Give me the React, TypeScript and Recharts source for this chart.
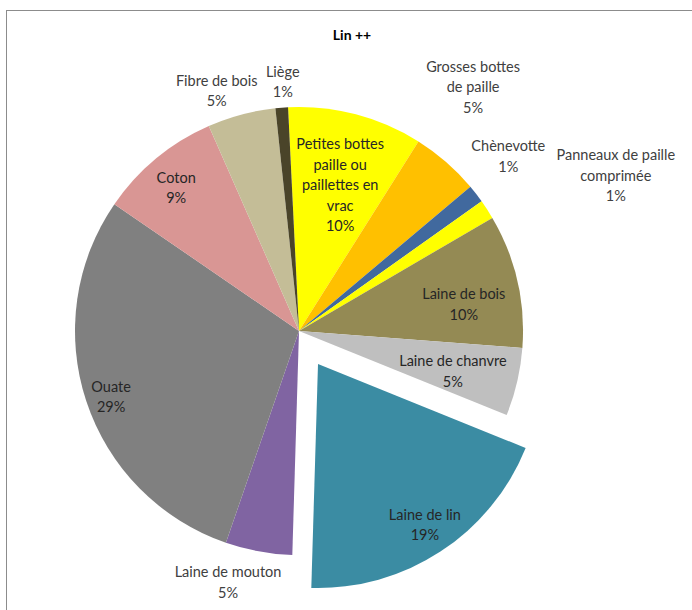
import { PieChart, Pie, Cell } from "recharts";

const categories = [
	"Petites bottes\npaille ou\npaillettes en\nvrac",
	"Grosses bottes\nde paille",
	"Chènevotte",
	"Panneaux de paille\ncomprimée",
	"Laine de bois",
	"Laine de chanvre",
	"Laine de lin",
	"Laine de mouton",
	"Ouate",
	"Coton",
	"Fibre de bois",
	"Liège",
];
const shares = [9.7, 4.9, 1.3, 1.4, 9.6, 4.9, 19.3, 4.8, 29.2, 8.8, 4.9, 0.9];

const COLORS = [
	"#FFFF00",
	"#FFC000",
	"#41699E",
	"#FFFF00",
	"#948A54",
	"#BFBFBF",
	"#3B8CA3",
	"#8064A2",
	"#808080",
	"#D99694",
	"#C4BD97",
	"#4A4429",
];

// label placement: distance from centre (px) and angle tweak (deg, clockwise)
const LABEL_POS: Record<number, { r: number; da: number; inside?: boolean }> = {
	0: { r: 152, da: 1, inside: true },
	1: { r: 300, da: -5.6 },
	2: { r: 273, da: -2.2 },
	3: { r: 353, da: 6.7 },
	4: { r: 167, da: 3.7, inside: true },
	5: { r: 159, da: 1.4, inside: true },
	6: { r: 193, da: -0.5, inside: true },
	7: { r: 261, da: 5.4 },
	8: { r: 199, da: -1, inside: true },
	9: { r: 189, da: -0.9, inside: true },
	10: { r: 254, da: -4 },
	11: { r: 250, da: 0.7 },
};

const EXPLODED = 6;
const CX = 299;
const CY = 331;
const RADIUS = 224;
const START = 92.8;

const data = categories.map((name, i) => ({ name, value: shares[i] }));
const total = shares.reduce((a, b) => a + b, 0);

const RAD = Math.PI / 180;

function renderLabel(props: any, only: number | null) {
	const { cx, cy, midAngle, index } = props;
	if (only === null ? index === EXPLODED : index !== only) return null;
	const pos = LABEL_POS[index];
	const a = (midAngle - pos.da) * RAD;
	const x = cx + pos.r * Math.cos(a);
	const y = cy - pos.r * Math.sin(a);
	const lines = [...categories[index].split("\n"), `${Math.round((shares[index] / total) * 100)}%`];
	const y0 = y - ((lines.length - 1) * 20.5) / 2;
	return (
		<text
			key={`lbl-${index}`}
			x={x}
			y={y0}
			textAnchor="middle"
			fill={pos.inside ? "#262626" : "#404040"}
			fontSize={14.5}
			fontFamily="Lato, 'Open Sans', sans-serif"
		>
			{lines.map((l, k) => (
				<tspan key={k} x={x} y={y0 + k * 20.5} dominantBaseline="central">
					{l}
				</tspan>
			))}
		</text>
	);
}

export default function App() {
	return (
		<div style={{ position: "fixed", left: 0, top: 0, width: 692, height: 610, background: "#fff" }}>
			<div
				style={{
					position: "absolute",
					left: 6,
					top: 10,
					width: 720,
					height: 640,
					borderTop: "1.5px solid #8c8c8c",
					borderLeft: "1.5px solid #8c8c8c",
				}}
			/>
			<div
				style={{
					position: "absolute",
					left: 0,
					top: 26,
					width: 704,
					textAlign: "center",
					fontFamily: "Lato, 'Open Sans', sans-serif",
					fontWeight: 700,
					fontSize: 14,
					color: "#000",
				}}
			>
				Lin ++
			</div>
			<div style={{ position: "absolute", left: 0, top: 0 }}>
				<PieChart width={692} height={610} margin={{ top: 0, right: 0, bottom: 0, left: 0 }}>
					<Pie
						data={data}
						dataKey="value"
						nameKey="name"
						cx={CX}
						cy={CY}
						outerRadius={RADIUS}
						startAngle={START}
						endAngle={START - 360}
						stroke="none"
						labelLine={false}
						label={(p: any) => renderLabel(p, null)}
						isAnimationActive={false}
					>
						{data.map((d, i) => (
							<Cell key={d.name} fill={i === EXPLODED ? "transparent" : COLORS[i]} />
						))}
					</Pie>
					<Pie
						data={data}
						dataKey="value"
						nameKey="name"
						cx={CX + 19}
						cy={CY + 33}
						outerRadius={RADIUS}
						startAngle={START}
						endAngle={START - 360}
						stroke="none"
						labelLine={false}
						label={(p: any) => renderLabel(p, EXPLODED)}
						isAnimationActive={false}
					>
						{data.map((d, i) => (
							<Cell key={d.name} fill={i === EXPLODED ? COLORS[i] : "transparent"} />
						))}
					</Pie>
				</PieChart>
			</div>
		</div>
	);
}
